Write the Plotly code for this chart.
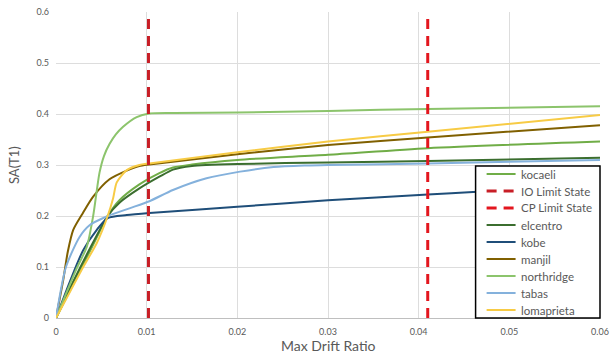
import plotly.graph_objects as go

# Pushover-style curves: spectral acceleration vs. maximum inter-storey drift ratio
kocaeli_x = [0, 0.002, 0.004, 0.0057, 0.007, 0.0092, 0.0114, 0.0129, 0.015, 0.02, 0.03, 0.041, 0.06]
kocaeli_y = [0, 0.07, 0.14, 0.2, 0.231, 0.262, 0.284, 0.295, 0.301, 0.31, 0.32, 0.333, 0.346]

elcentro_x = [0, 0.002, 0.004, 0.0057, 0.007, 0.0092, 0.0114, 0.0129, 0.015, 0.0166, 0.02, 0.03, 0.041, 0.06]
elcentro_y = [0, 0.075, 0.145, 0.2, 0.226, 0.254, 0.277, 0.291, 0.298, 0.300, 0.302, 0.305, 0.308, 0.314]

kobe_x = [0, 0.0015, 0.003, 0.0045, 0.0057, 0.0078, 0.0103, 0.02, 0.03, 0.041, 0.046, 0.06]
kobe_y = [0, 0.07, 0.133, 0.173, 0.196, 0.202, 0.206, 0.218, 0.231, 0.242, 0.247, 0.258]

manjil_x = [0, 0.0008, 0.0013, 0.0019, 0.003, 0.0041, 0.0059, 0.0078, 0.0092, 0.0103, 0.02, 0.03, 0.041, 0.06]
manjil_y = [0, 0.075, 0.13, 0.173, 0.207, 0.238, 0.272, 0.289, 0.298, 0.301, 0.321, 0.339, 0.354, 0.378]

northridge_x = [0, 0.0022, 0.0034, 0.0041, 0.0045, 0.0048, 0.0053, 0.0059, 0.0066, 0.0074, 0.0089, 0.0103, 0.013, 0.02, 0.03, 0.041, 0.06]
northridge_y = [0, 0.094, 0.14, 0.2, 0.25, 0.285, 0.318, 0.341, 0.36, 0.375, 0.394, 0.401, 0.402, 0.403, 0.406, 0.41, 0.415]

tabas_x = [0, 0.0011, 0.0026, 0.0037, 0.0056, 0.0081, 0.0103, 0.0129, 0.0166, 0.0203, 0.024, 0.0276, 0.03, 0.041, 0.06]
tabas_y = [0, 0.1, 0.159, 0.182, 0.199, 0.215, 0.229, 0.251, 0.274, 0.287, 0.296, 0.299, 0.300, 0.303, 0.31]

lomaprieta_x = [0, 0.0015, 0.003, 0.0045, 0.0057, 0.0063, 0.0067, 0.0078, 0.0092, 0.0103, 0.02, 0.03, 0.041, 0.06]
lomaprieta_y = [0, 0.05, 0.1, 0.147, 0.2, 0.235, 0.266, 0.29, 0.300, 0.303, 0.325, 0.346, 0.365, 0.398]

# Performance limit states (drift ratio)
io_limit = 0.0102
cp_limit = 0.041
limit_y = [0, 0.6]

x_ticks = [0, 0.01, 0.02, 0.03, 0.04, 0.05, 0.06]
x_tick_text = ["0", "0.01", "0.02", "0.03", "0.04", "0.05", "0.06"]
y_ticks = [0, 0.1, 0.2, 0.3, 0.4, 0.5, 0.6]
y_tick_text = ["0", "0.1", "0.2", "0.3", "0.4", "0.5", "0.6"]

x_title = "Max Drift Ratio"
y_title = "SA(T1)"

IO_COLOR = "#C81E26"
CP_COLOR = "#E3161E"
DASH = "10px,7px"

series = [
    ("kocaeli", kocaeli_x, kocaeli_y, "#70AD47"),
    ("elcentro", elcentro_x, elcentro_y, "#3B6E2F"),
    ("kobe", kobe_x, kobe_y, "#1F4E79"),
    ("manjil", manjil_x, manjil_y, "#806000"),
    ("northridge", northridge_x, northridge_y, "#8CC46C"),
    ("tabas", tabas_x, tabas_y, "#84B1DC"),
    ("lomaprieta", lomaprieta_x, lomaprieta_y, "#F7CB45"),
]

fig = go.Figure()
for name, xs, ys, color in series:
    fig.add_trace(go.Scatter(
        x=xs, y=ys, name=name, mode="lines",
        line=dict(color=color, width=2, shape="spline", smoothing=0.7),
    ))

fig.add_trace(go.Scatter(
    x=[io_limit, io_limit], y=limit_y, name="IO Limit State", mode="lines",
    line=dict(color=IO_COLOR, width=3, dash=DASH),
))
fig.add_trace(go.Scatter(
    x=[cp_limit, cp_limit], y=limit_y, name="CP Limit State", mode="lines",
    line=dict(color=CP_COLOR, width=3, dash=DASH),
))

# Compact boxed legend in the lower-right corner of the plot area
legend_entries = [
    ("kocaeli", "#70AD47", "solid", 2),
    ("IO Limit State", IO_COLOR, DASH, 3),
    ("CP Limit State", CP_COLOR, DASH, 3),
    ("elcentro", "#3B6E2F", "solid", 2),
    ("kobe", "#1F4E79", "solid", 2),
    ("manjil", "#806000", "solid", 2),
    ("northridge", "#8CC46C", "solid", 2),
    ("tabas", "#84B1DC", "solid", 2),
    ("lomaprieta", "#F7CB45", "solid", 2),
]
plot_w, plot_h = 544.5, 306.0
box_left, box_top = 0.7713, 152.0 / plot_h
row_h = 17.0 / plot_h
first_row = (318 - 174) / plot_h
key_x0, key_x1 = (487 - 56) / plot_w, (516 - 56) / plot_w
text_x = (519 - 56) / plot_w

shapes = [dict(type="rect", xref="paper", yref="paper", x0=box_left, x1=1.0,
               y0=0, y1=box_top, fillcolor="white",
               line=dict(color="#000000", width=1.5), layer="above")]
annotations = []
for i, (label, color, dash, width) in enumerate(legend_entries):
    yy = first_row - i * row_h
    shapes.append(dict(type="line", xref="paper", yref="paper", x0=key_x0, x1=key_x1,
                       y0=yy, y1=yy, line=dict(color=color, width=width, dash=dash),
                       layer="above"))
    annotations.append(dict(text=label, xref="paper", yref="paper", x=text_x, y=yy,
                            xanchor="left", yanchor="middle", showarrow=False,
                            font=dict(size=11.5, color="#595959")))

# Axis titles, placed just outside the tick labels
annotations.append(dict(text=x_title, xref="paper", yref="paper", x=0.5,
                        y=(318 - 346) / plot_h, xanchor="center", yanchor="middle",
                        showarrow=False, font=dict(size=14, color="#595959")))
annotations.append(dict(text=y_title, xref="paper", yref="paper", x=(14 - 56) / plot_w,
                        y=0.5, xanchor="center", yanchor="middle", textangle=-90,
                        showarrow=False, font=dict(size=13, color="#595959")))

font_family = "Lato, 'Open Sans', sans-serif"
fig.update_layout(
    width=611, height=358,
    margin=dict(l=56, r=10.5, t=12, b=40),
    paper_bgcolor="white", plot_bgcolor="white",
    font=dict(family=font_family, color="#595959"),
    showlegend=False,
    shapes=shapes, annotations=annotations,
    xaxis=dict(
        range=[0, 0.06], tickvals=x_ticks, ticktext=x_tick_text,
        showgrid=True, gridcolor="#DDDDDD", gridwidth=1,
        zeroline=False, showline=True, linecolor="#BFBFBF", linewidth=1,
        ticks="", tickfont=dict(size=9, color="#595959"), ticklabelstandoff=5,
        automargin=False,
    ),
    yaxis=dict(
        range=[0, 0.6], tickvals=y_ticks, ticktext=y_tick_text,
        showgrid=True, gridcolor="#DDDDDD", gridwidth=1,
        zeroline=False, showline=False,
        ticks="", tickfont=dict(size=9, color="#595959"), ticklabelstandoff=6,
        automargin=False,
    ),
)

fig.write_html("out.html")
